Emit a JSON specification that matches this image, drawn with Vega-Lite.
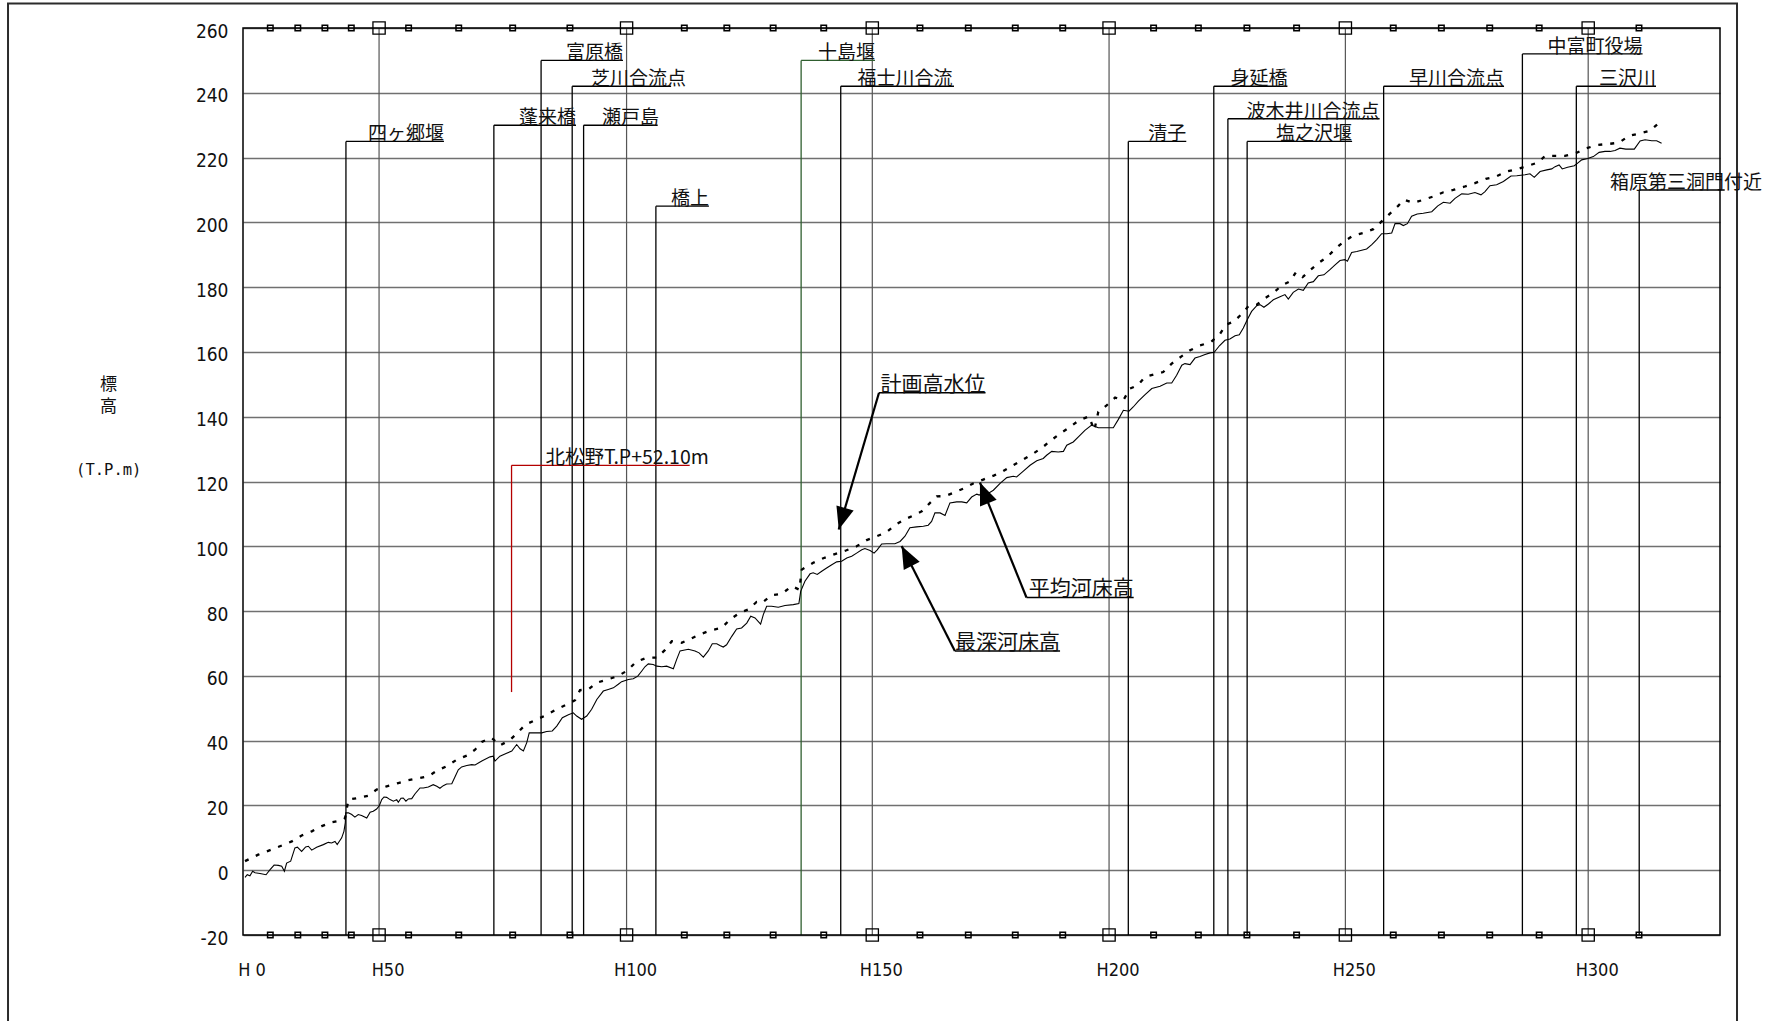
{
  "$schema": "https://vega.github.io/schema/vega-lite/v6.json",
  "width": 1477,
  "height": 907,
  "autosize": {"type": "none"},
  "padding": {"left": 243, "top": 28, "right": 51, "bottom": 86},
  "background": "white",
  "config": {
    "view": {"stroke": null},
    "text": {"font": "Noto Sans CJK JP", "color": "#111"}
  },
  "datasets": {
    "deepest": [
      {"d":0.09,"z":-2.2},{"d":0.19,"z":-1.4},{"d":0.31,"z":-1.7},{"d":0.43,"z":-0.3},{"d":0.54,"z":-0.8},{"d":0.76,"z":-1.0},{"d":1.03,"z":-1.4},{"d":1.21,"z":0.2},{"d":1.39,"z":1.6},{"d":1.58,"z":1.5},{"d":1.73,"z":1.2},{"d":1.85,"z":-0.3},{"d":1.95,"z":2.2},{"d":2.13,"z":2.8},{"d":2.32,"z":6.9},{"d":2.43,"z":7.1},{"d":2.62,"z":5.8},{"d":2.80,"z":7.2},{"d":2.92,"z":7.4},{"d":3.07,"z":6.2},{"d":3.29,"z":7.1},{"d":3.59,"z":7.9},{"d":3.81,"z":8.6},{"d":3.96,"z":8.4},{"d":4.11,"z":8.9},{"d":4.21,"z":7.9},{"d":4.41,"z":10.0},{"d":4.51,"z":12.0},{"d":4.57,"z":14.6},{"d":4.59,"z":17.7},{"d":4.71,"z":17.7},{"d":4.86,"z":17.2},{"d":5.00,"z":16.4},{"d":5.15,"z":17.2},{"d":5.30,"z":16.9},{"d":5.53,"z":16.1},{"d":5.68,"z":17.9},{"d":5.82,"z":18.2},{"d":5.97,"z":18.9},{"d":6.09,"z":19.9},{"d":6.20,"z":21.8},{"d":6.30,"z":22.6},{"d":6.42,"z":22.5},{"d":6.57,"z":21.8},{"d":6.72,"z":21.3},{"d":6.87,"z":21.8},{"d":6.94,"z":21.0},{"d":7.06,"z":22.2},{"d":7.16,"z":22.3},{"d":7.28,"z":21.3},{"d":7.39,"z":22.0},{"d":7.54,"z":22.1},{"d":7.69,"z":23.6},{"d":7.91,"z":25.4},{"d":8.06,"z":25.4},{"d":8.28,"z":25.7},{"d":8.50,"z":26.4},{"d":8.66,"z":25.9},{"d":8.80,"z":25.3},{"d":8.95,"z":26.1},{"d":9.10,"z":26.6},{"d":9.33,"z":26.7},{"d":9.47,"z":28.8},{"d":9.62,"z":31.0},{"d":9.77,"z":31.9},{"d":10.00,"z":32.3},{"d":10.22,"z":32.6},{"d":10.37,"z":32.5},{"d":10.67,"z":33.7},{"d":11.04,"z":35.0},{"d":11.18,"z":35.2},{"d":11.26,"z":33.7},{"d":11.48,"z":35.2},{"d":11.78,"z":36.1},{"d":12.01,"z":36.8},{"d":12.23,"z":38.8},{"d":12.38,"z":37.5},{"d":12.53,"z":36.8},{"d":12.68,"z":39.4},{"d":12.79,"z":42.4},{"d":13.05,"z":42.4},{"d":13.35,"z":42.4},{"d":13.57,"z":42.8},{"d":13.82,"z":43.0},{"d":14.02,"z":44.5},{"d":14.27,"z":47.1},{"d":14.54,"z":48.0},{"d":14.76,"z":48.6},{"d":14.91,"z":47.6},{"d":15.13,"z":46.6},{"d":15.36,"z":47.6},{"d":15.58,"z":49.7},{"d":15.81,"z":52.7},{"d":16.10,"z":55.3},{"d":16.32,"z":55.8},{"d":16.55,"z":56.3},{"d":16.77,"z":57.4},{"d":16.92,"z":58.2},{"d":17.22,"z":58.9},{"d":17.44,"z":59.1},{"d":17.64,"z":59.9},{"d":17.82,"z":61.5},{"d":17.96,"z":62.8},{"d":18.11,"z":63.7},{"d":18.33,"z":63.5},{"d":18.49,"z":63.0},{"d":18.71,"z":62.8},{"d":18.93,"z":63.0},{"d":19.23,"z":62.2},{"d":19.38,"z":65.1},{"d":19.53,"z":67.7},{"d":19.90,"z":68.2},{"d":20.20,"z":67.7},{"d":20.38,"z":67.1},{"d":20.57,"z":65.8},{"d":20.79,"z":67.7},{"d":20.97,"z":69.9},{"d":21.17,"z":69.9},{"d":21.31,"z":69.4},{"d":21.46,"z":68.9},{"d":21.61,"z":69.6},{"d":21.84,"z":72.2},{"d":22.06,"z":74.5},{"d":22.28,"z":74.8},{"d":22.51,"z":76.3},{"d":22.69,"z":78.4},{"d":22.88,"z":77.9},{"d":23.13,"z":76.0},{"d":23.25,"z":78.9},{"d":23.40,"z":81.5},{"d":23.62,"z":81.5},{"d":23.92,"z":81.2},{"d":24.22,"z":81.7},{"d":24.59,"z":82.0},{"d":24.84,"z":82.3},{"d":24.92,"z":86.1},{"d":25.11,"z":89.2},{"d":25.34,"z":91.5},{"d":25.48,"z":91.8},{"d":25.66,"z":91.3},{"d":25.86,"z":92.3},{"d":26.08,"z":93.3},{"d":26.31,"z":94.3},{"d":26.53,"z":95.2},{"d":26.75,"z":95.4},{"d":26.98,"z":96.4},{"d":27.20,"z":96.9},{"d":27.42,"z":97.9},{"d":27.65,"z":98.9},{"d":27.79,"z":99.3},{"d":28.02,"z":98.7},{"d":28.20,"z":97.9},{"d":28.34,"z":98.9},{"d":28.54,"z":100.7},{"d":28.76,"z":100.8},{"d":29.13,"z":100.8},{"d":29.36,"z":101.5},{"d":29.58,"z":103.1},{"d":29.80,"z":105.7},{"d":30.10,"z":106.0},{"d":30.40,"z":106.2},{"d":30.62,"z":106.5},{"d":30.77,"z":107.7},{"d":30.92,"z":110.3},{"d":31.15,"z":110.3},{"d":31.37,"z":109.5},{"d":31.59,"z":113.4},{"d":31.89,"z":113.7},{"d":32.12,"z":113.7},{"d":32.34,"z":113.4},{"d":32.56,"z":115.2},{"d":32.79,"z":116.1},{"d":32.90,"z":115.8},{"d":33.08,"z":116.8},{"d":33.30,"z":116.3},{"d":33.53,"z":117.3},{"d":33.83,"z":119.4},{"d":34.13,"z":121.2},{"d":34.42,"z":121.6},{"d":34.57,"z":121.4},{"d":34.87,"z":123.2},{"d":35.17,"z":125.0},{"d":35.47,"z":126.4},{"d":35.76,"z":127.1},{"d":35.91,"z":128.1},{"d":36.14,"z":129.3},{"d":36.43,"z":129.1},{"d":36.66,"z":129.3},{"d":36.81,"z":131.2},{"d":37.10,"z":132.2},{"d":37.33,"z":133.8},{"d":37.62,"z":135.8},{"d":37.92,"z":137.4},{"d":38.22,"z":136.6},{"d":38.52,"z":136.6},{"d":38.89,"z":136.6},{"d":39.11,"z":139.1},{"d":39.34,"z":142.0},{"d":39.59,"z":141.7},{"d":39.78,"z":143.0},{"d":40.01,"z":144.8},{"d":40.31,"z":146.8},{"d":40.61,"z":148.7},{"d":40.98,"z":149.4},{"d":41.28,"z":150.4},{"d":41.50,"z":150.4},{"d":41.72,"z":152.8},{"d":41.95,"z":155.9},{"d":42.09,"z":156.4},{"d":42.32,"z":156.1},{"d":42.54,"z":158.1},{"d":42.76,"z":158.6},{"d":42.99,"z":159.2},{"d":43.21,"z":159.7},{"d":43.40,"z":159.9},{"d":43.63,"z":161.9},{"d":43.88,"z":163.6},{"d":44.10,"z":164.0},{"d":44.33,"z":165.0},{"d":44.52,"z":165.3},{"d":44.70,"z":167.4},{"d":44.88,"z":170.0},{"d":45.07,"z":172.5},{"d":45.30,"z":174.3},{"d":45.44,"z":174.6},{"d":45.62,"z":173.8},{"d":45.82,"z":174.8},{"d":46.04,"z":176.1},{"d":46.34,"z":177.0},{"d":46.56,"z":177.7},{"d":46.71,"z":176.3},{"d":46.93,"z":178.4},{"d":47.16,"z":179.4},{"d":47.38,"z":179.0},{"d":47.60,"z":181.3},{"d":47.83,"z":181.7},{"d":48.05,"z":183.5},{"d":48.30,"z":183.8},{"d":48.57,"z":185.4},{"d":48.80,"z":186.9},{"d":49.02,"z":188.2},{"d":49.24,"z":188.5},{"d":49.35,"z":188.0},{"d":49.54,"z":190.7},{"d":49.77,"z":191.0},{"d":49.99,"z":191.4},{"d":50.21,"z":191.8},{"d":50.44,"z":193.1},{"d":50.66,"z":194.7},{"d":50.88,"z":196.5},{"d":51.11,"z":196.5},{"d":51.33,"z":196.7},{"d":51.48,"z":199.6},{"d":51.70,"z":199.6},{"d":51.85,"z":199.0},{"d":52.03,"z":199.6},{"d":52.22,"z":201.9},{"d":52.47,"z":202.6},{"d":52.74,"z":202.8},{"d":53.12,"z":203.3},{"d":53.39,"z":205.1},{"d":53.64,"z":206.2},{"d":53.94,"z":205.9},{"d":54.16,"z":207.4},{"d":54.46,"z":208.8},{"d":54.75,"z":208.7},{"d":55.05,"z":209.2},{"d":55.32,"z":208.5},{"d":55.50,"z":209.5},{"d":55.72,"z":211.3},{"d":56.02,"z":211.6},{"d":56.32,"z":212.6},{"d":56.66,"z":214.3},{"d":56.92,"z":214.4},{"d":57.29,"z":214.7},{"d":57.51,"z":215.0},{"d":57.70,"z":213.9},{"d":57.96,"z":215.7},{"d":58.26,"z":216.2},{"d":58.48,"z":216.5},{"d":58.63,"z":217.2},{"d":58.81,"z":217.7},{"d":58.95,"z":216.5},{"d":59.19,"z":217.0},{"d":59.49,"z":217.5},{"d":59.64,"z":218.3},{"d":59.82,"z":219.3},{"d":60.09,"z":219.7},{"d":60.34,"z":220.3},{"d":60.60,"z":221.6},{"d":60.86,"z":221.9},{"d":61.09,"z":221.9},{"d":61.31,"z":222.2},{"d":61.53,"z":222.9},{"d":61.79,"z":222.6},{"d":62.17,"z":222.6},{"d":62.43,"z":225.1},{"d":62.65,"z":225.5},{"d":62.95,"z":225.2},{"d":63.17,"z":225.2},{"d":63.39,"z":224.4}
    ],
    "average": [
      {"d":0.09,"z":2.8},{"d":0.68,"z":4.8},{"d":1.21,"z":6.2},{"d":1.65,"z":7.4},{"d":2.18,"z":8.9},{"d":2.62,"z":10.7},{"d":3.07,"z":12.0},{"d":3.52,"z":13.6},{"d":3.96,"z":14.8},{"d":4.41,"z":15.4},{"d":4.56,"z":16.1},{"d":4.71,"z":21.8},{"d":5.15,"z":22.3},{"d":5.60,"z":23.0},{"d":5.97,"z":24.9},{"d":6.42,"z":25.9},{"d":6.94,"z":26.9},{"d":7.39,"z":27.8},{"d":7.91,"z":28.5},{"d":8.28,"z":29.0},{"d":8.66,"z":30.7},{"d":9.10,"z":32.1},{"d":9.55,"z":34.1},{"d":10.00,"z":35.4},{"d":10.37,"z":37.2},{"d":10.67,"z":39.6},{"d":11.11,"z":40.9},{"d":11.48,"z":38.5},{"d":11.93,"z":40.2},{"d":12.30,"z":42.7},{"d":12.63,"z":45.0},{"d":13.05,"z":46.3},{"d":13.53,"z":47.8},{"d":14.02,"z":49.7},{"d":14.42,"z":51.0},{"d":14.84,"z":52.5},{"d":15.06,"z":55.6},{"d":15.43,"z":55.8},{"d":15.81,"z":57.9},{"d":16.30,"z":58.9},{"d":16.74,"z":59.9},{"d":17.19,"z":61.7},{"d":17.56,"z":64.3},{"d":18.04,"z":65.6},{"d":18.49,"z":65.6},{"d":18.86,"z":68.0},{"d":19.16,"z":70.7},{"d":19.60,"z":70.2},{"d":20.02,"z":71.5},{"d":20.42,"z":72.8},{"d":20.87,"z":74.0},{"d":21.39,"z":74.8},{"d":21.76,"z":77.4},{"d":22.18,"z":79.4},{"d":22.58,"z":80.5},{"d":22.95,"z":82.8},{"d":23.18,"z":82.5},{"d":23.62,"z":84.9},{"d":24.07,"z":85.3},{"d":24.52,"z":87.7},{"d":24.86,"z":86.6},{"d":24.97,"z":92.8},{"d":25.48,"z":94.9},{"d":25.96,"z":96.4},{"d":26.45,"z":97.6},{"d":26.94,"z":98.7},{"d":27.42,"z":100.0},{"d":27.87,"z":101.9},{"d":28.32,"z":103.1},{"d":28.76,"z":104.4},{"d":29.13,"z":106.5},{"d":29.54,"z":108.2},{"d":29.98,"z":109.6},{"d":30.33,"z":110.8},{"d":30.70,"z":113.4},{"d":31.00,"z":115.4},{"d":31.37,"z":115.5},{"d":31.74,"z":116.5},{"d":32.19,"z":117.8},{"d":32.63,"z":119.4},{"d":33.08,"z":120.6},{"d":33.57,"z":121.9},{"d":33.97,"z":123.2},{"d":34.42,"z":125.0},{"d":34.87,"z":126.8},{"d":35.31,"z":128.6},{"d":35.72,"z":130.5},{"d":36.11,"z":132.7},{"d":36.51,"z":134.8},{"d":36.91,"z":136.6},{"d":37.36,"z":138.9},{"d":37.80,"z":140.1},{"d":38.04,"z":135.8},{"d":38.22,"z":141.5},{"d":38.59,"z":143.5},{"d":38.97,"z":145.9},{"d":39.34,"z":145.1},{"d":39.64,"z":148.7},{"d":39.98,"z":149.7},{"d":40.31,"z":152.3},{"d":40.72,"z":153.1},{"d":41.12,"z":153.8},{"d":41.50,"z":156.4},{"d":41.95,"z":158.7},{"d":42.32,"z":160.5},{"d":42.76,"z":162.0},{"d":43.24,"z":163.0},{"d":43.63,"z":165.3},{"d":43.93,"z":168.4},{"d":44.28,"z":169.4},{"d":44.70,"z":172.2},{"d":44.92,"z":174.1},{"d":45.30,"z":174.6},{"d":45.67,"z":176.6},{"d":46.04,"z":178.2},{"d":46.41,"z":180.5},{"d":46.79,"z":181.8},{"d":47.05,"z":184.6},{"d":47.35,"z":183.1},{"d":47.68,"z":185.2},{"d":48.05,"z":187.4},{"d":48.45,"z":189.3},{"d":48.80,"z":191.8},{"d":49.20,"z":194.1},{"d":49.61,"z":195.9},{"d":50.06,"z":196.7},{"d":50.51,"z":197.9},{"d":50.88,"z":200.3},{"d":51.25,"z":202.7},{"d":51.62,"z":205.1},{"d":51.88,"z":207.0},{"d":52.30,"z":206.0},{"d":52.67,"z":206.8},{"d":53.19,"z":208.0},{"d":53.64,"z":209.3},{"d":54.08,"z":210.0},{"d":54.57,"z":211.0},{"d":55.05,"z":212.1},{"d":55.53,"z":213.4},{"d":55.98,"z":214.1},{"d":56.47,"z":215.7},{"d":56.96,"z":216.5},{"d":57.43,"z":217.5},{"d":57.88,"z":218.5},{"d":58.18,"z":220.5},{"d":58.63,"z":220.5},{"d":59.07,"z":220.5},{"d":59.60,"z":221.5},{"d":60.04,"z":222.9},{"d":60.53,"z":223.9},{"d":61.01,"z":224.2},{"d":61.49,"z":224.6},{"d":61.93,"z":226.7},{"d":62.43,"z":227.5},{"d":62.88,"z":228.3},{"d":63.22,"z":230.4}
    ],
    "sections": [
      {"H":0,"d":0,"label":"H 0"},{"H":10,"d":1.22,"label":"H10"},{"H":20,"d":2.45,"label":"H20"},{"H":30,"d":3.66,"label":"H30"},{"H":40,"d":4.84,"label":"H40"},{"H":50,"d":6.08,"label":"H50"},{"H":60,"d":7.40,"label":"H60"},{"H":70,"d":9.64,"label":"H70"},{"H":80,"d":12.05,"label":"H80"},{"H":90,"d":14.61,"label":"H90"},{"H":100,"d":17.14,"label":"H100"},{"H":110,"d":19.72,"label":"H110"},{"H":120,"d":21.62,"label":"H120"},{"H":130,"d":23.69,"label":"H130"},{"H":140,"d":25.95,"label":"H140"},{"H":150,"d":28.12,"label":"H150"},{"H":160,"d":30.25,"label":"H160"},{"H":170,"d":32.41,"label":"H170"},{"H":180,"d":34.51,"label":"H180"},{"H":190,"d":36.63,"label":"H190"},{"H":200,"d":38.70,"label":"H200"},{"H":210,"d":40.69,"label":"H210"},{"H":220,"d":42.69,"label":"H220"},{"H":230,"d":44.86,"label":"H230"},{"H":240,"d":47.08,"label":"H240"},{"H":250,"d":49.26,"label":"H250"},{"H":260,"d":51.40,"label":"H260"},{"H":270,"d":53.55,"label":"H270"},{"H":280,"d":55.71,"label":"H280"},{"H":290,"d":57.92,"label":"H290"},{"H":300,"d":60.11,"label":"H300"},{"H":310,"d":62.38,"label":"H310"}
    ],
    "landmarks": [
      {"name":"四ヶ郷堰","d":4.60,"h":225,"end":8.98,"tx":8.98},
      {"name":"蓬来橋","d":11.21,"h":230,"end":14.88,"tx":14.88},
      {"name":"富原橋","d":13.32,"h":250,"end":16.98,"tx":16.98},
      {"name":"芝川合流点","d":14.71,"h":242,"end":19.13,"tx":19.80},
      {"name":"瀬戸島","d":15.22,"h":230,"end":18.53,"tx":18.59},
      {"name":"橋上","d":18.45,"h":205,"end":20.82,"tx":20.82},
      {"name":"十島堰","d":24.94,"h":250,"end":28.24,"tx":28.24},
      {"name":"福士川合流","d":26.71,"h":242,"end":31.77,"tx":31.71},
      {"name":"清子","d":39.56,"h":225,"end":42.15,"tx":42.15},
      {"name":"身延橋","d":43.38,"h":242,"end":46.67,"tx":46.67},
      {"name":"波木井川合流点","d":44.01,"h":232,"end":50.79,"tx":50.79},
      {"name":"塩之沢堰","d":44.87,"h":225,"end":49.56,"tx":49.56},
      {"name":"早川合流点","d":50.97,"h":242,"end":56.35,"tx":56.35},
      {"name":"中富町役場","d":57.17,"h":252,"end":62.54,"tx":62.54},
      {"name":"三沢川","d":59.58,"h":242,"end":63.14,"tx":63.14},
      {"name":"箱原第三洞門付近","d":62.39,"h":210,"end":66.21,"tx":67.88}
    ],
    "bench": [
      {"name":"北松野T.P+52.10m","d":12.00,"z0":55,"z1":125,"d2":19.96,"tx":13.52}
    ],
    "callouts": [
      {"name":"計画高水位","d1":28.42,"d2":33.18,"y":147.4,"tipD":26.62,"tipZ":105.2},
      {"name":"平均河床高","d1":35.01,"d2":39.80,"y":84.2,"tipD":32.93,"tipZ":119.7},
      {"name":"最深河床高","d1":31.81,"d2":36.51,"y":67.7,"tipD":29.43,"tipZ":100.1}
    ],
    "sheet": [
      {"x0":-10.5,"x1":66.76,"y0":267.6,"y1":-60}
    ],
    "plotEdge": [
      {"x0":0,"x1":66,"y0":-20,"y1":260}
    ],
    "unitNote": [
      {"unit":"(T.P.m)"}
    ]
  },
  "layer": [
    {
      "data": {"name": "sheet"},
      "mark": {"type": "rect", "filled": false, "stroke": "#2b2b2b", "strokeWidth": 2, "clip": false},
      "encoding": {
        "x": {"field": "x0", "type": "quantitative", "scale": {"domain": [0, 66], "nice": false, "zero": false}, "axis": null},
        "x2": {"field": "x1"},
        "y": {
          "field": "y0", "type": "quantitative",
          "scale": {"domain": [-20, 260], "nice": false, "zero": false},
          "axis": {
            "values": [-20, 0, 20, 40, 60, 80, 100, 120, 140, 160, 180, 200, 220, 240, 260],
            "labelExpr": "'' + datum.value",
            "grid": true, "gridColor": "#707070", "gridWidth": 1.6,
            "domain": false, "ticks": false,
            "labelPadding": 15, "labelFont": "Liberation Sans Narrow, DejaVu Sans Condensed, sans-serif",
            "labelFontSize": 19, "labelColor": "#111", "labelOffset": 3,
            "labelBound": false, "labelFlush": false, "labelOverlap": false,
            "title": ["標", "高"],
            "titleAngle": 0, "titleAlign": "center", "titleBaseline": "alphabetic",
            "titleX": -135, "titleY": 361, "titleFont": "Noto Sans CJK JP",
            "titleFontSize": 17, "titleFontWeight": "normal", "titleLineHeight": 22, "titleColor": "#111"
          }
        },
        "y2": {"field": "y1"}
      }
    },
    {
      "data": {"name": "unitNote"},
      "mark": {"type": "text", "align": "center", "baseline": "alphabetic", "font": "DejaVu Sans Mono", "fontSize": 15.5, "clip": false},
      "encoding": {
        "x": {"datum": -6.0, "type": "quantitative", "axis": null},
        "y": {"datum": 122, "type": "quantitative"},
        "text": {"field": "unit"}
      }
    },
    {
      "data": {"name": "sections"},
      "transform": [{"filter": "datum.H > 0 && datum.H % 50 == 0"}],
      "mark": {"type": "rule", "color": "#555", "strokeWidth": 1.2},
      "encoding": {
        "x": {"field": "d", "type": "quantitative", "axis": null},
        "y": {"datum": 260, "type": "quantitative"},
        "y2": {"datum": -20}
      }
    },
    {
      "data": {"name": "landmarks"},
      "mark": {"type": "rule", "strokeWidth": 1.3},
      "encoding": {
        "x": {"field": "d", "type": "quantitative", "axis": null},
        "y": {"field": "h", "type": "quantitative"},
        "y2": {"datum": -20},
        "color": {"condition": {"test": "datum.name === '十島堰'", "value": "#2f5f2f"}, "value": "black"}
      }
    },
    {
      "data": {"name": "landmarks"},
      "mark": {"type": "rule", "strokeWidth": 1.4, "clip": false},
      "encoding": {
        "x": {"field": "d", "type": "quantitative", "axis": null},
        "x2": {"field": "end"},
        "y": {"field": "h", "type": "quantitative"},
        "color": {"condition": {"test": "datum.name === '十島堰'", "value": "#2f5f2f"}, "value": "black"}
      }
    },
    {
      "data": {"name": "bench"},
      "mark": {"type": "rule", "color": "#b40000", "strokeWidth": 1.3},
      "encoding": {
        "x": {"field": "d", "type": "quantitative", "axis": null},
        "y": {"field": "z0", "type": "quantitative"},
        "y2": {"field": "z1"}
      }
    },
    {
      "data": {"name": "bench"},
      "mark": {"type": "rule", "color": "#b40000", "strokeWidth": 1.3},
      "encoding": {
        "x": {"field": "d", "type": "quantitative", "axis": null},
        "x2": {"field": "d2"},
        "y": {"field": "z1", "type": "quantitative"}
      }
    },
    {
      "data": {"name": "deepest"},
      "mark": {"type": "line", "color": "black", "strokeWidth": 1.1},
      "encoding": {
        "x": {"field": "d", "type": "quantitative", "axis": null},
        "y": {"field": "z", "type": "quantitative"}
      }
    },
    {
      "data": {"name": "average"},
      "mark": {"type": "line", "color": "black", "strokeWidth": 2.3, "strokeDash": [4, 8], "strokeCap": "butt"},
      "encoding": {
        "x": {"field": "d", "type": "quantitative", "axis": null},
        "y": {"field": "z", "type": "quantitative"}
      }
    },
    {
      "data": {"name": "callouts"},
      "mark": {"type": "rule", "color": "black", "strokeWidth": 1.5},
      "encoding": {
        "x": {"field": "d1", "type": "quantitative", "axis": null},
        "x2": {"field": "d2"},
        "y": {"field": "y", "type": "quantitative"}
      }
    },
    {
      "data": {"name": "callouts"},
      "mark": {"type": "rule", "color": "black", "strokeWidth": 2.2},
      "encoding": {
        "x": {"field": "d1", "type": "quantitative", "axis": null},
        "y": {"field": "y", "type": "quantitative"},
        "x2": {"field": "tipD"},
        "y2": {"field": "tipZ"}
      }
    },
    {
      "data": {"name": "callouts"},
      "transform": [{"filter": "datum.name === '計画高水位'"}],
      "mark": {"type": "point", "shape": "M0,0L-0.8,2L0.8,2Z", "filled": true, "color": "black", "opacity": 1, "size": 500, "angle": 196.4},
      "encoding": {
        "x": {"field": "tipD", "type": "quantitative", "axis": null},
        "y": {"field": "tipZ", "type": "quantitative"}
      }
    },
    {
      "data": {"name": "callouts"},
      "transform": [{"filter": "datum.name === '平均河床高'"}],
      "mark": {"type": "point", "shape": "M0,0L-0.8,2L0.8,2Z", "filled": true, "color": "black", "opacity": 1, "size": 500, "angle": 338},
      "encoding": {
        "x": {"field": "tipD", "type": "quantitative", "axis": null},
        "y": {"field": "tipZ", "type": "quantitative"}
      }
    },
    {
      "data": {"name": "callouts"},
      "transform": [{"filter": "datum.name === '最深河床高'"}],
      "mark": {"type": "point", "shape": "M0,0L-0.8,2L0.8,2Z", "filled": true, "color": "black", "opacity": 1, "size": 500, "angle": 333.1},
      "encoding": {
        "x": {"field": "tipD", "type": "quantitative", "axis": null},
        "y": {"field": "tipZ", "type": "quantitative"}
      }
    },
    {
      "data": {"name": "callouts"},
      "mark": {"type": "text", "align": "right", "baseline": "alphabetic", "dy": -2, "fontSize": 21},
      "encoding": {
        "x": {"field": "d2", "type": "quantitative", "axis": null},
        "y": {"field": "y", "type": "quantitative"},
        "text": {"field": "name"}
      }
    },
    {
      "data": {"name": "landmarks"},
      "mark": {"type": "text", "align": "right", "baseline": "alphabetic", "dy": -1, "fontSize": 19, "clip": false},
      "encoding": {
        "x": {"field": "tx", "type": "quantitative", "axis": null},
        "y": {"field": "h", "type": "quantitative"},
        "text": {"field": "name"}
      }
    },
    {
      "data": {"name": "bench"},
      "mark": {"type": "text", "align": "left", "baseline": "alphabetic", "dy": -1, "fontSize": 19.5},
      "encoding": {
        "x": {"field": "tx", "type": "quantitative", "axis": null},
        "y": {"field": "z1", "type": "quantitative"},
        "text": {"field": "name"}
      }
    },
    {
      "data": {"name": "plotEdge"},
      "mark": {"type": "rect", "filled": false, "stroke": "black", "strokeWidth": 1.5},
      "encoding": {
        "x": {"field": "x0", "type": "quantitative", "axis": null},
        "x2": {"field": "x1"},
        "y": {"field": "y0", "type": "quantitative"},
        "y2": {"field": "y1"}
      }
    },
    {
      "data": {"name": "sections"},
      "transform": [{"filter": "datum.H > 0 && datum.H % 50 != 0"}],
      "mark": {"type": "point", "shape": "square", "filled": false, "color": "black", "opacity": 1, "strokeWidth": 1.5, "size": 30},
      "encoding": {
        "x": {"field": "d", "type": "quantitative", "axis": null},
        "y": {"datum": 260, "type": "quantitative"}
      }
    },
    {
      "data": {"name": "sections"},
      "transform": [{"filter": "datum.H > 0 && datum.H % 50 != 0"}],
      "mark": {"type": "point", "shape": "square", "filled": false, "color": "black", "opacity": 1, "strokeWidth": 1.5, "size": 30},
      "encoding": {
        "x": {"field": "d", "type": "quantitative", "axis": null},
        "y": {"datum": -20, "type": "quantitative"}
      }
    },
    {
      "data": {"name": "sections"},
      "transform": [{"filter": "datum.H > 0 && datum.H % 50 == 0"}],
      "mark": {"type": "point", "shape": "square", "filled": false, "color": "black", "opacity": 1, "strokeWidth": 1.3, "size": 150},
      "encoding": {
        "x": {"field": "d", "type": "quantitative", "axis": null},
        "y": {"datum": 260, "type": "quantitative"}
      }
    },
    {
      "data": {"name": "sections"},
      "transform": [{"filter": "datum.H > 0 && datum.H % 50 == 0"}],
      "mark": {"type": "point", "shape": "square", "filled": false, "color": "black", "opacity": 1, "strokeWidth": 1.3, "size": 150},
      "encoding": {
        "x": {"field": "d", "type": "quantitative", "axis": null},
        "y": {"datum": -20, "type": "quantitative"}
      }
    },
    {
      "data": {"name": "sections"},
      "transform": [{"filter": "datum.H % 50 == 0"}],
      "mark": {"type": "text", "align": "center", "baseline": "middle", "dx": 9, "dy": 36, "fontSize": 18, "font": "Liberation Sans Narrow, DejaVu Sans Condensed, sans-serif"},
      "encoding": {
        "x": {"field": "d", "type": "quantitative", "axis": null},
        "y": {"datum": -20, "type": "quantitative"},
        "text": {"field": "label"}
      }
    }
  ]
}
